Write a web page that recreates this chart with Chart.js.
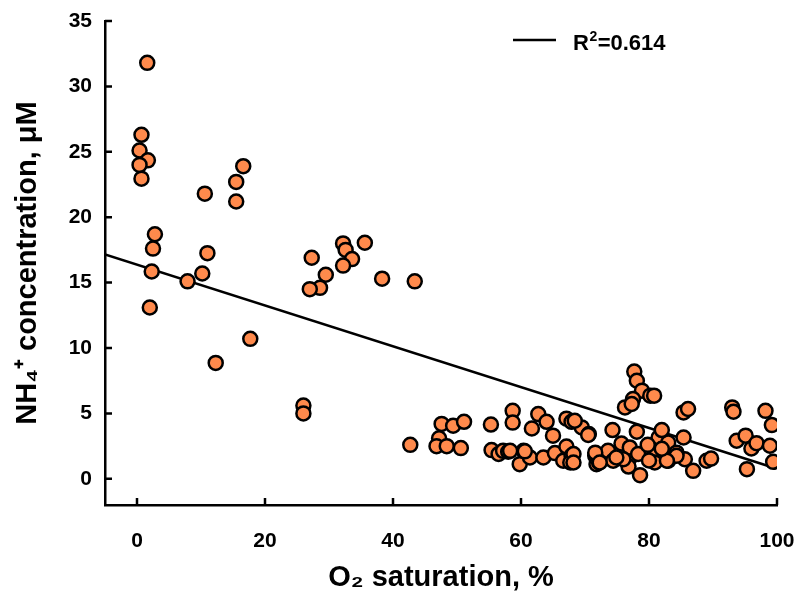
<!DOCTYPE html>
<html>
<head>
<meta charset="utf-8">
<title>NH4+ vs O2 saturation</title>
<script src="https://cdn.jsdelivr.net/npm/chart.js@4.4.1/dist/chart.umd.min.js"></script>
<style>
  html, body { margin: 0; padding: 0; background: #fff; }
  canvas { display: block; }
</style>
</head>
<body>
<canvas id="chart" width="795" height="597"></canvas>
<script>
// O2 saturation (%) and NH4+ (µM) for each sample
const o2Sat = [
  1.6, 0.7, 0.4, 1.7, 0.4, 0.7, 10.6, 16.6, 15.5, 15.5,
  2.8, 2.5, 2.3, 2.0, 7.9, 10.2, 11.0, 17.7, 12.3,
  27.3, 32.2, 32.6, 35.6, 33.6, 32.2, 29.5, 28.6, 27.0, 38.3, 43.4,
  26.0, 26.0,
  42.7, 47.6, 49.4, 51.1, 47.2, 46.8, 48.4, 50.6,
  55.3, 58.7, 58.7, 62.7, 64.0, 61.7, 65.0, 67.1, 67.9,
  55.4, 56.5, 57.2, 58.0, 60.4, 59.8, 61.4, 63.5, 65.3, 67.1, 66.6, 67.9, 67.7,
  58.3, 60.6, 69.5, 70.6, 71.6, 71.8,
  68.4, 70.5, 74.3, 78.1, 75.7, 81.5, 83.0, 82.0,
  68.2, 72.2, 73.6, 74.4, 76.25, 77.3, 76.8, 78.6, 79.4, 80.9, 82.5, 83.0,
  77.7, 78.1, 78.9, 80.2, 80.8, 77.5, 76.25, 77.3,
  85.4, 86.1, 93.0, 93.2, 98.2, 99.2,
  85.4, 93.7, 95.1, 96.0, 96.8, 98.9, 99.4, 95.3, 85.6, 86.9, 89.0, 89.7, 84.3,
  71.6, 77.0, 81.2, 84.3, 72.3, 76.0, 80.9, 82.8,
  78.3, 74.9, 80.0, 82.0, 79.8, 68.2
];
const nh4 = [
  31.8, 26.3, 25.1, 24.35, 24.0, 22.95, 21.8, 23.9, 22.7, 21.2,
  18.7, 17.6, 15.85, 13.1, 15.1, 15.7, 17.25, 10.7, 8.86,
  16.9, 18.0, 17.5, 18.05, 16.8, 16.3, 15.6, 14.6, 14.5, 15.3, 15.1,
  5.6, 5.0,
  2.6, 4.2, 4.06, 4.36, 3.1, 2.5, 2.5, 2.35,
  4.15, 5.2, 4.3, 4.95, 4.36, 3.85, 3.3, 4.6, 4.36,
  2.2, 1.9, 2.14, 2.07, 2.14, 1.12, 1.63, 1.63, 1.97, 2.47, 1.38, 1.76, 1.25,
  2.14, 2.1, 3.93, 3.42, 1.76, 1.12,
  4.44, 3.35, 3.73, 3.6, 2.7, 3.16, 2.78, 3.73,
  1.9, 1.25, 2.14, 1.38, 1.5, 1.76, 0.94, 0.28, 2.07, 1.9, 1.81, 1.38,
  8.2, 7.5, 6.74, 6.36, 6.36, 6.1, 5.46, 5.72,
  5.08, 5.34, 5.46, 5.13, 5.2, 4.11,
  3.16, 2.91, 3.3, 2.32, 2.73, 2.53, 1.3, 0.74, 1.5, 0.61, 1.38, 1.55, 2.0,
  2.0, 2.4, 2.1, 1.76, 1.25, 1.5, 1.25, 1.38,
  1.9, 1.63, 1.4, 2.3, 2.6, 1.25
];

// least-squares line, end points
const fitX = [-5, 99.5];
const fitY = [17.15, 0.85];
const fitLabel = '0.614';

const xTicks = [0, 20, 40, 60, 80, 100];
const yTicks = [0, 5, 10, 15, 20, 25, 30, 35];

const points = o2Sat.map((x, i) => ({ x, y: nh4[i] }));
const fitLine = fitX.map((x, i) => ({ x, y: fitY[i] }));

const FONT = "'Liberation Sans', Arial, Helvetica, sans-serif";

// tick marks point into the plot area
const innerTicks = {
  id: 'innerTicks',
  beforeDatasetsDraw(chart) {
    const { ctx, chartArea: { left, bottom }, scales: { x, y } } = chart;
    ctx.save();
    ctx.strokeStyle = '#000';
    ctx.lineWidth = 2.5;
    ctx.beginPath();
    xTicks.forEach(v => {
      const px = x.getPixelForValue(v);
      ctx.moveTo(px, bottom);
      ctx.lineTo(px, bottom - 7);
    });
    yTicks.forEach(v => {
      const py = y.getPixelForValue(v);
      ctx.moveTo(left, py);
      ctx.lineTo(left + 7, py);
    });
    ctx.stroke();
    ctx.restore();
  }
};

// legend entry for the fit line, with a superscript 2
const fitLegend = {
  id: 'fitLegend',
  afterDraw(chart) {
    const ctx = chart.ctx;
    ctx.save();
    ctx.strokeStyle = '#000';
    ctx.lineWidth = 2.5;
    ctx.beginPath();
    ctx.moveTo(513, 40);
    ctx.lineTo(556, 40);
    ctx.stroke();

    ctx.fillStyle = '#000';
    ctx.textBaseline = 'alphabetic';
    let x = 573;
    ctx.font = `bold 22px ${FONT}`;
    ctx.fillText('R', x, 50);
    x += ctx.measureText('R').width;
    ctx.font = `bold 14px ${FONT}`;
    ctx.fillText('2', x + 0.5, 41);
    x += ctx.measureText('2').width + 1;
    ctx.font = `bold 22px ${FONT}`;
    ctx.fillText('=' + fitLabel, x, 50);
    ctx.restore();
  }
};

new Chart(document.getElementById('chart'), {
  type: 'scatter',
  data: {
    datasets: [
      {
        label: 'NH4+',
        data: points,
        backgroundColor: '#ff8a4c',
        borderColor: '#000',
        borderWidth: 2.5,
        pointRadius: 7,
        pointHoverRadius: 7,
      },
      {
        type: 'line',
        label: 'R²=' + fitLabel,
        data: fitLine,
        borderColor: '#000',
        borderWidth: 2.5,
        pointRadius: 0,
        fill: false,
        tension: 0,
      },
    ],
  },
  options: {
    responsive: false,
    animation: false,
    events: [],
    layout: { padding: { top: 21, right: 18, left: 0, bottom: 0 } },
    plugins: {
      legend: { display: false },
      tooltip: { enabled: false },
    },
    scales: {
      x: {
        type: 'linear',
        min: -5,
        max: 100,
        afterBuildTicks: s => { s.ticks = xTicks.map(value => ({ value })); },
        afterFit: s => {
          s.height = 92;
          // the last label may hang past the plot edge
          s.paddingLeft = 0;
          s.paddingRight = 0;
        },
        grid: { display: false, drawTicks: false },
        border: { display: true, color: '#000', width: 2.5 },
        ticks: {
          color: '#000',
          padding: 24,
          font: { family: FONT, weight: 'bold', size: 21 },
        },
        title: {
          display: true,
          text: 'O₂ saturation, %',
          color: '#000',
          padding: { top: 0, bottom: 2 },
          font: { family: FONT, weight: 'bold', size: 29 },
        },
      },
      y: {
        type: 'linear',
        min: -2,
        max: 35,
        afterBuildTicks: s => { s.ticks = yTicks.map(value => ({ value })); },
        afterFit: s => {
          s.width = 105;
          s.paddingTop = 0;
          s.paddingBottom = 0;
        },
        grid: { display: false, drawTicks: false },
        border: { display: true, color: '#000', width: 2.5 },
        ticks: {
          color: '#000',
          padding: 13,
          font: { family: FONT, weight: 'bold', size: 21 },
        },
        title: {
          display: true,
          text: 'NH₄⁺ concentration, μM',
          color: '#000',
          padding: { top: 11, bottom: 0 },
          font: { family: FONT, weight: 'bold', size: 29 },
        },
      },
    },
  },
  plugins: [innerTicks, fitLegend],
});
</script>
</body>
</html>
